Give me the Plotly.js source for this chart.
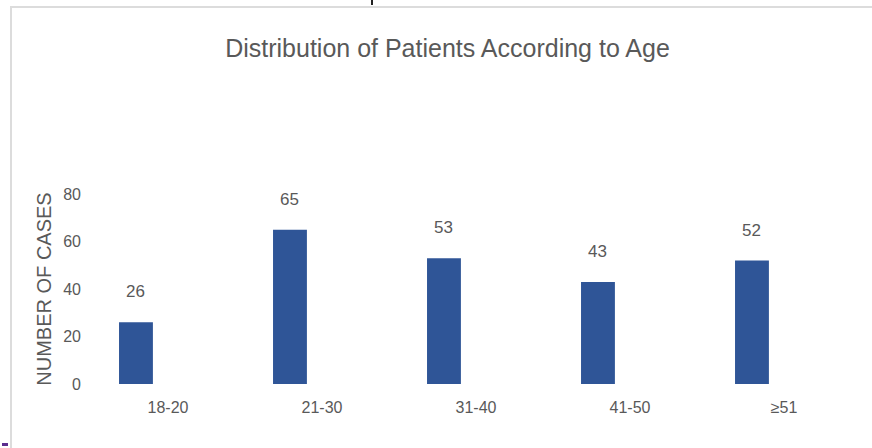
<!DOCTYPE html>
<html>
<head>
<meta charset="utf-8">
<script src="https://cdn.plot.ly/plotly-3.0.1.min.js"></script>
<style>
  html, body { margin: 0; padding: 0; background: #fff; }
  #wrap { position: relative; width: 872px; height: 448px; overflow: hidden; }
  #chart { position: absolute; left: 0; top: 0; width: 872px; height: 448px; }
  #frame { position: absolute; left: 10px; top: 6px; width: 870px; height: 450px;
           border-top: 2px solid #dcdcdc; border-left: 2px solid #dcdcdc; pointer-events: none; }
  #mark1 { position: absolute; left: 371px; top: 0; width: 2px; height: 5px; background: #222; }
  #mark2 { position: absolute; left: 2px; top: 443px; width: 6px; height: 3px; background: #5b2d8e; }
</style>
</head>
<body>
<div id="wrap">
  <div id="chart"></div>
  <div id="frame"></div>
  <div id="mark1"></div>
  <div id="mark2"></div>
</div>
<script>
const categories = ["18-20", "21-30", "31-40", "41-50", "\u226551"];
const cases = [26, 65, 53, 43, 52];
const yTicks = [0, 20, 40, 60, 80];

const barOffset = -0.318;
const barWidth = 0.22;
const textColor = "#595959";
const narrow = "Liberation Sans Narrow, Arial Narrow, Liberation Sans, sans-serif";

const trace = {
  type: "bar",
  x: categories,
  y: cases,
  offset: barOffset,
  width: barWidth,
  marker: { color: "#2F5597" },
  hoverinfo: "x+y"
};

const annotations = cases.map((v, i) => ({
  x: i + barOffset + barWidth / 2,
  y: v,
  xref: "x",
  yref: "y",
  text: String(v),
  showarrow: false,
  yanchor: "bottom",
  yshift: 19,
  font: { family: narrow, size: 17, color: textColor }
}));

const layout = {
  width: 872,
  height: 448,
  margin: { l: 91, r: 11, t: 194, b: 64 },
  paper_bgcolor: "rgba(0,0,0,0)",
  plot_bgcolor: "rgba(0,0,0,0)",
  showlegend: false,
  title: {
    text: "Distribution of Patients According to Age",
    font: { family: narrow, size: 25, color: textColor },
    xref: "container",
    yref: "container",
    x: 447.5 / 872,
    xanchor: "center",
    y: 1 - 48 / 448,
    yanchor: "middle"
  },
  xaxis: {
    type: "category",
    range: [-0.5, 4.5],
    showgrid: false,
    showline: false,
    zeroline: false,
    ticks: "",
    ticklabelstandoff: 12,
    tickfont: { family: narrow, size: 16, color: textColor }
  },
  yaxis: {
    range: [0, 80],
    tickvals: yTicks,
    ticktext: yTicks.map(String),
    showgrid: false,
    showline: false,
    zeroline: false,
    ticks: "",
    ticklabelstandoff: 9,
    tickfont: { family: narrow, size: 16, color: textColor },
    title: {
      text: "NUMBER OF CASES",
      font: { family: "Liberation Sans, Arial, sans-serif", size: 20, color: textColor },
      standoff: 6
    }
  },
  annotations: annotations
};

Plotly.newPlot("chart", [trace], layout, { displayModeBar: false, staticPlot: true });
</script>
</body>
</html>
